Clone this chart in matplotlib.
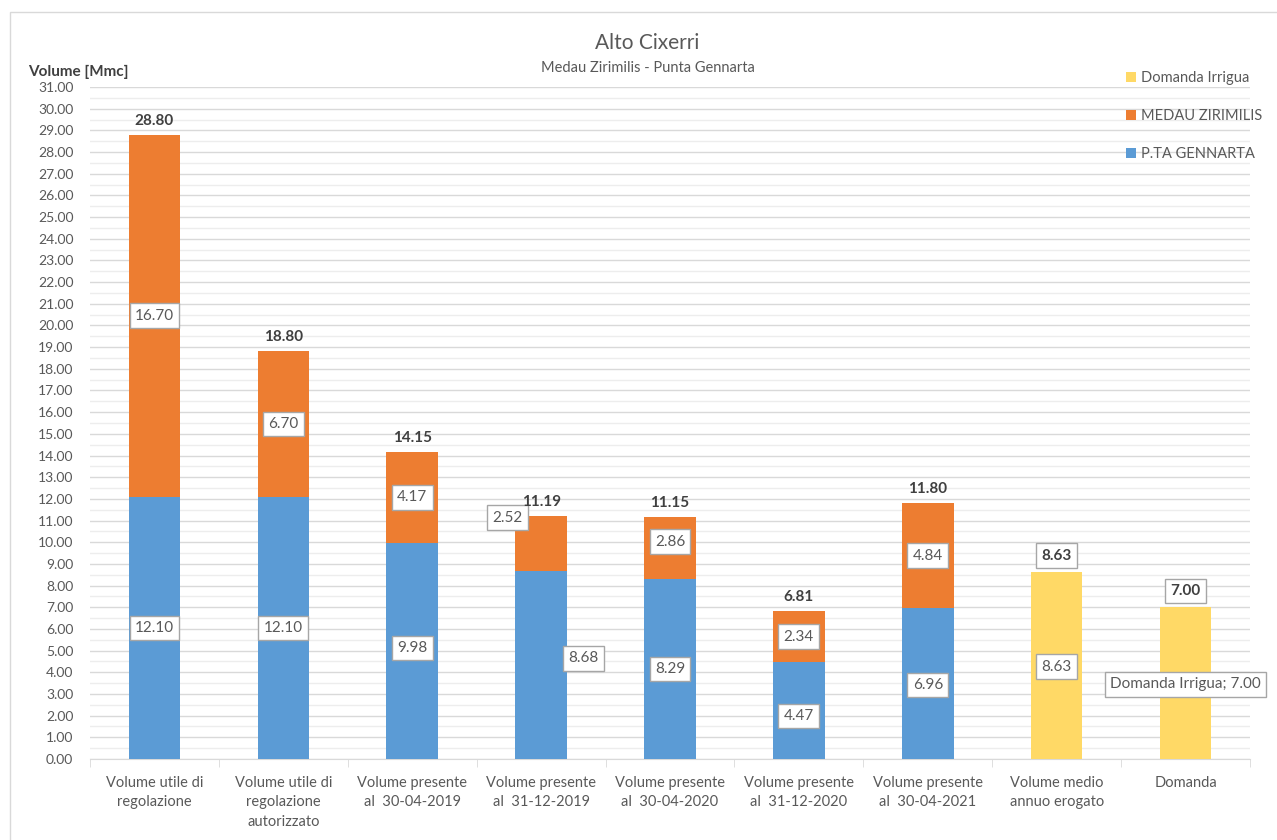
import numpy as np
import matplotlib.pyplot as plt
from matplotlib.patches import Rectangle

plt.rcParams['font.family'] = ['Lato', 'DejaVu Sans']

# dati del grafico
categorie = ["Volume utile di\nregolazione", "Volume utile di\nregolazione\nautorizzato",
             "Volume presente\nal  30-04-2019", "Volume presente\nal  31-12-2019",
             "Volume presente\nal  30-04-2020", "Volume presente\nal  31-12-2020",
             "Volume presente\nal  30-04-2021", "Volume medio\nannuo erogato", "Domanda"]
gennarta = [12.10, 12.10, 9.98, 8.68, 8.29, 4.47, 6.96, 0, 0]
medau = [16.70, 6.70, 4.17, 2.52, 2.86, 2.34, 4.84, 0, 0]
domanda = [0, 0, 0, 0, 0, 0, 0, 8.63, 7.00]
totali = [28.80, 18.80, 14.15, 11.19, 11.15, 6.81, 11.80, 8.63, 7.00]

blu = '#5B9BD5'
arancio = '#ED7D31'
giallo = '#FFD966'
grigio = '#595959'

fig = plt.figure(figsize=(12.77, 8.4), dpi=100)
ax = fig.add_axes([90/1277, 81/840, 1160/1277, 672/840])

x = np.arange(len(categorie))
w = 0.4
gennarta = np.array(gennarta)
medau = np.array(medau)
domanda = np.array(domanda)

b1 = ax.bar(x, gennarta, w, color=blu, label='P.TA GENNARTA', zorder=3)
b2 = ax.bar(x, medau, w, bottom=gennarta, color=arancio, label='MEDAU ZIRIMILIS', zorder=3)
b3 = ax.bar(x, domanda, w, bottom=gennarta + medau, color=giallo, label='Domanda Irrigua', zorder=3)

box = dict(boxstyle='square,pad=0.35', fc='white', ec='#A6A6A6', lw=1)

# spostamenti delle etichette (in unita' dei dati)
dx_g = [0, 0, 0, 0.33, 0, 0, 0, 0, 0]
dy_g = [0, 0, 0.13, 0.3, 0, -0.25, -0.07, 0, 0]
dx_m = [0, 0, 0, -0.26, 0, 0, 0, 0, 0]
dy_m = [0, 0, 0, 1.2, 0.3, 0, 0, 0, 0]

for i in x:
    if gennarta[i] > 0:
        ax.text(i + dx_g[i], gennarta[i] / 2 + dy_g[i], f"{gennarta[i]:.2f}", ha='center', va='center',
                fontsize=11, color=grigio, bbox=box, zorder=5)
    if medau[i] > 0:
        ax.text(i + dx_m[i], gennarta[i] + medau[i] / 2 + dy_m[i], f"{medau[i]:.2f}", ha='center',
                va='center', fontsize=11, color=grigio, bbox=box, zorder=5)
    if domanda[i] > 0:
        txt = f"{domanda[i]:.2f}" if i == 7 else f"Domanda Irrigua; {domanda[i]:.2f}"
        ax.text(i, domanda[i] / 2 - 0.05, txt, ha='center', va='center',
                fontsize=11, color=grigio, bbox=box, zorder=5)
    if domanda[i] > 0:
        ax.text(i, totali[i] + 0.75, f"{totali[i]:.2f}", ha='center', va='center', fontsize=11,
                fontweight='bold', color='#404040', bbox=box, zorder=5)
    else:
        ax.text(i, totali[i] + 0.65, f"{totali[i]:.2f}", ha='center', va='center', fontsize=11,
                fontweight='bold', color='#404040', zorder=5)

ax.set_ylim(0, 31)
ax.set_xlim(-0.5, len(categorie) - 0.5)
ax.set_yticks(np.arange(0, 32, 1))
ax.set_yticklabels([f"{v:.2f}" for v in range(32)])
ax.set_yticks(np.arange(0.5, 31, 1), minor=True)
ax.grid(axis='y', which='major', color='#D9D9D9', lw=1, zorder=0)
ax.grid(axis='y', which='minor', color='#EDEDED', lw=1, zorder=0)
ax.tick_params(axis='y', which='both', length=0, labelsize=10, labelcolor=grigio, pad=12)

ax.set_xticks(x)
ax.set_xticklabels(categorie, fontsize=10.5, color=grigio, linespacing=1.5)
ax.set_xticks(np.arange(-0.5, len(categorie), 1), minor=True)
ax.tick_params(axis='x', which='major', length=0, pad=12)
ax.tick_params(axis='x', which='minor', length=6, color='#D9D9D9', direction='out')

for s in ['top', 'right', 'left']:
    ax.spines[s].set_visible(False)
ax.spines['bottom'].set_color('#D9D9D9')

fig.text(0.507, 0.949, "Alto Cixerri", ha='center', va='center', fontsize=15, color=grigio)
fig.text(0.507, 0.919, "Medau Zirimilis - Punta Gennarta", ha='center', va='center', fontsize=10.5, color=grigio)
fig.text(78/1277, 1 - 72/840, "Volume [Mmc]", ha='center', va='center', fontsize=11,
         fontweight='bold', color='#404040')

ax.legend(handles=[b3, b2, b1], loc='upper left', bbox_to_anchor=(1113/1277, 1 - 58/840),
          bbox_transform=fig.transFigure, frameon=False, fontsize=10.5, labelcolor=grigio,
          handlelength=0.7, handleheight=0.7, handletextpad=0.3, labelspacing=1.65)

fig.patches.append(Rectangle((10/1277, -0.01), 1.0, 1 - 12/840 + 0.01, transform=fig.transFigure,
                             fill=False, ec='#D9D9D9', lw=1))

fig.savefig('out.png', dpi=100)
